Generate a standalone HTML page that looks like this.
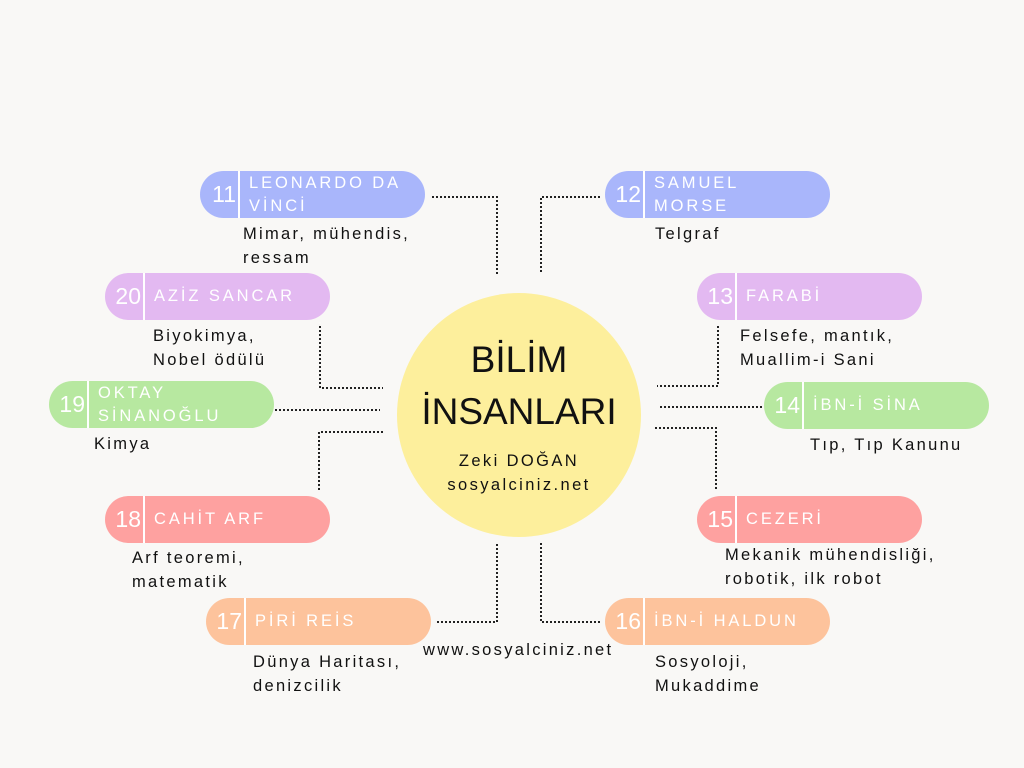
<!DOCTYPE html>
<html><head><meta charset="utf-8"><style>
body{margin:0;width:1024px;height:768px;background:#f9f8f6;position:relative;overflow:hidden;font-family:"Liberation Sans","DejaVu Sans",sans-serif}
.p{position:absolute;width:225px;height:47px;border-radius:24px}
.n{position:absolute;left:0;top:0;height:47px;border-right:2px solid #fff;color:#fff;font-size:23px;line-height:47px;text-align:right;padding-right:2px;box-sizing:border-box;width:40px}
.t{position:absolute;left:49px;top:0;height:47px;display:flex;align-items:center;color:#fff;font-size:16.5px;letter-spacing:2.9px;line-height:23px;white-space:nowrap}
.d{position:absolute;font-size:16.5px;letter-spacing:2.3px;color:#111;line-height:24px;white-space:nowrap}
.b{background:#a9b6fb}.pu{background:#e3b9f1}.g{background:#b7e8a0}.r{background:#fea1a0}.o{background:#fdc39c}
</style></head><body>
<svg width="1024" height="768" style="position:absolute;left:0;top:0">
<circle cx="519" cy="415" r="122" fill="#fdef9c"/>
<g fill="none" stroke="#222" stroke-width="2" stroke-dasharray="2 2">
<polyline points="432,197 497,197 497,274"/>
<polyline points="541,272 541,197 600,197"/>
<polyline points="320,326 320,388 383,388"/>
<polyline points="275,410 380,410"/>
<polyline points="383,432 319,432 319,490"/>
<polyline points="718,326 718,386 657,386"/>
<polyline points="660,407 762,407"/>
<polyline points="655,428 716,428 716,490"/>
<polyline points="437,622 497,622 497,543"/>
<polyline points="541,543 541,622 600,622"/>
</g>
</svg>
<div style="position:absolute;left:397px;top:334px;width:244px;text-align:center;font-size:37px;line-height:52px;color:#111">BİLİM<br>İNSANLARI</div>
<div style="position:absolute;left:397px;top:449px;width:244px;text-align:center;font-size:16.5px;letter-spacing:2.4px;line-height:24px;color:#111">Zeki DOĞAN<br>sosyalciniz.net</div>
<div class="d" style="left:423px;top:638px">www.sosyalciniz.net</div>

<div class="p b" style="left:200px;top:171px"><div class="n">11</div><div class="t">LEONARDO DA<br>VİNCİ</div></div>
<div class="d" style="left:243px;top:222px">Mimar, mühendis,<br>ressam</div>
<div class="p b" style="left:605px;top:171px"><div class="n">12</div><div class="t">SAMUEL<br>MORSE</div></div>
<div class="d" style="left:655px;top:222px">Telgraf</div>
<div class="p pu" style="left:105px;top:273px"><div class="n">20</div><div class="t">AZİZ SANCAR</div></div>
<div class="d" style="left:153px;top:324px">Biyokimya,<br>Nobel ödülü</div>
<div class="p pu" style="left:697px;top:273px"><div class="n">13</div><div class="t">FARABİ</div></div>
<div class="d" style="left:740px;top:324px">Felsefe, mantık,<br>Muallim-i Sani</div>
<div class="p g" style="left:49px;top:381px"><div class="n">19</div><div class="t">OKTAY<br>SİNANOĞLU</div></div>
<div class="d" style="left:94px;top:432px">Kimya</div>
<div class="p g" style="left:764px;top:382px"><div class="n">14</div><div class="t">İBN-İ SİNA</div></div>
<div class="d" style="left:810px;top:433px">Tıp, Tıp Kanunu</div>
<div class="p r" style="left:105px;top:496px"><div class="n">18</div><div class="t">CAHİT ARF</div></div>
<div class="d" style="left:132px;top:546px">Arf teoremi,<br>matematik</div>
<div class="p r" style="left:697px;top:496px"><div class="n">15</div><div class="t">CEZERİ</div></div>
<div class="d" style="left:725px;top:543px">Mekanik mühendisliği,<br>robotik, ilk robot</div>
<div class="p o" style="left:206px;top:598px"><div class="n">17</div><div class="t">PİRİ REİS</div></div>
<div class="d" style="left:253px;top:650px">Dünya Haritası,<br>denizcilik</div>
<div class="p o" style="left:605px;top:598px"><div class="n">16</div><div class="t">İBN-İ HALDUN</div></div>
<div class="d" style="left:655px;top:650px">Sosyoloji,<br>Mukaddime</div>
</body></html>
